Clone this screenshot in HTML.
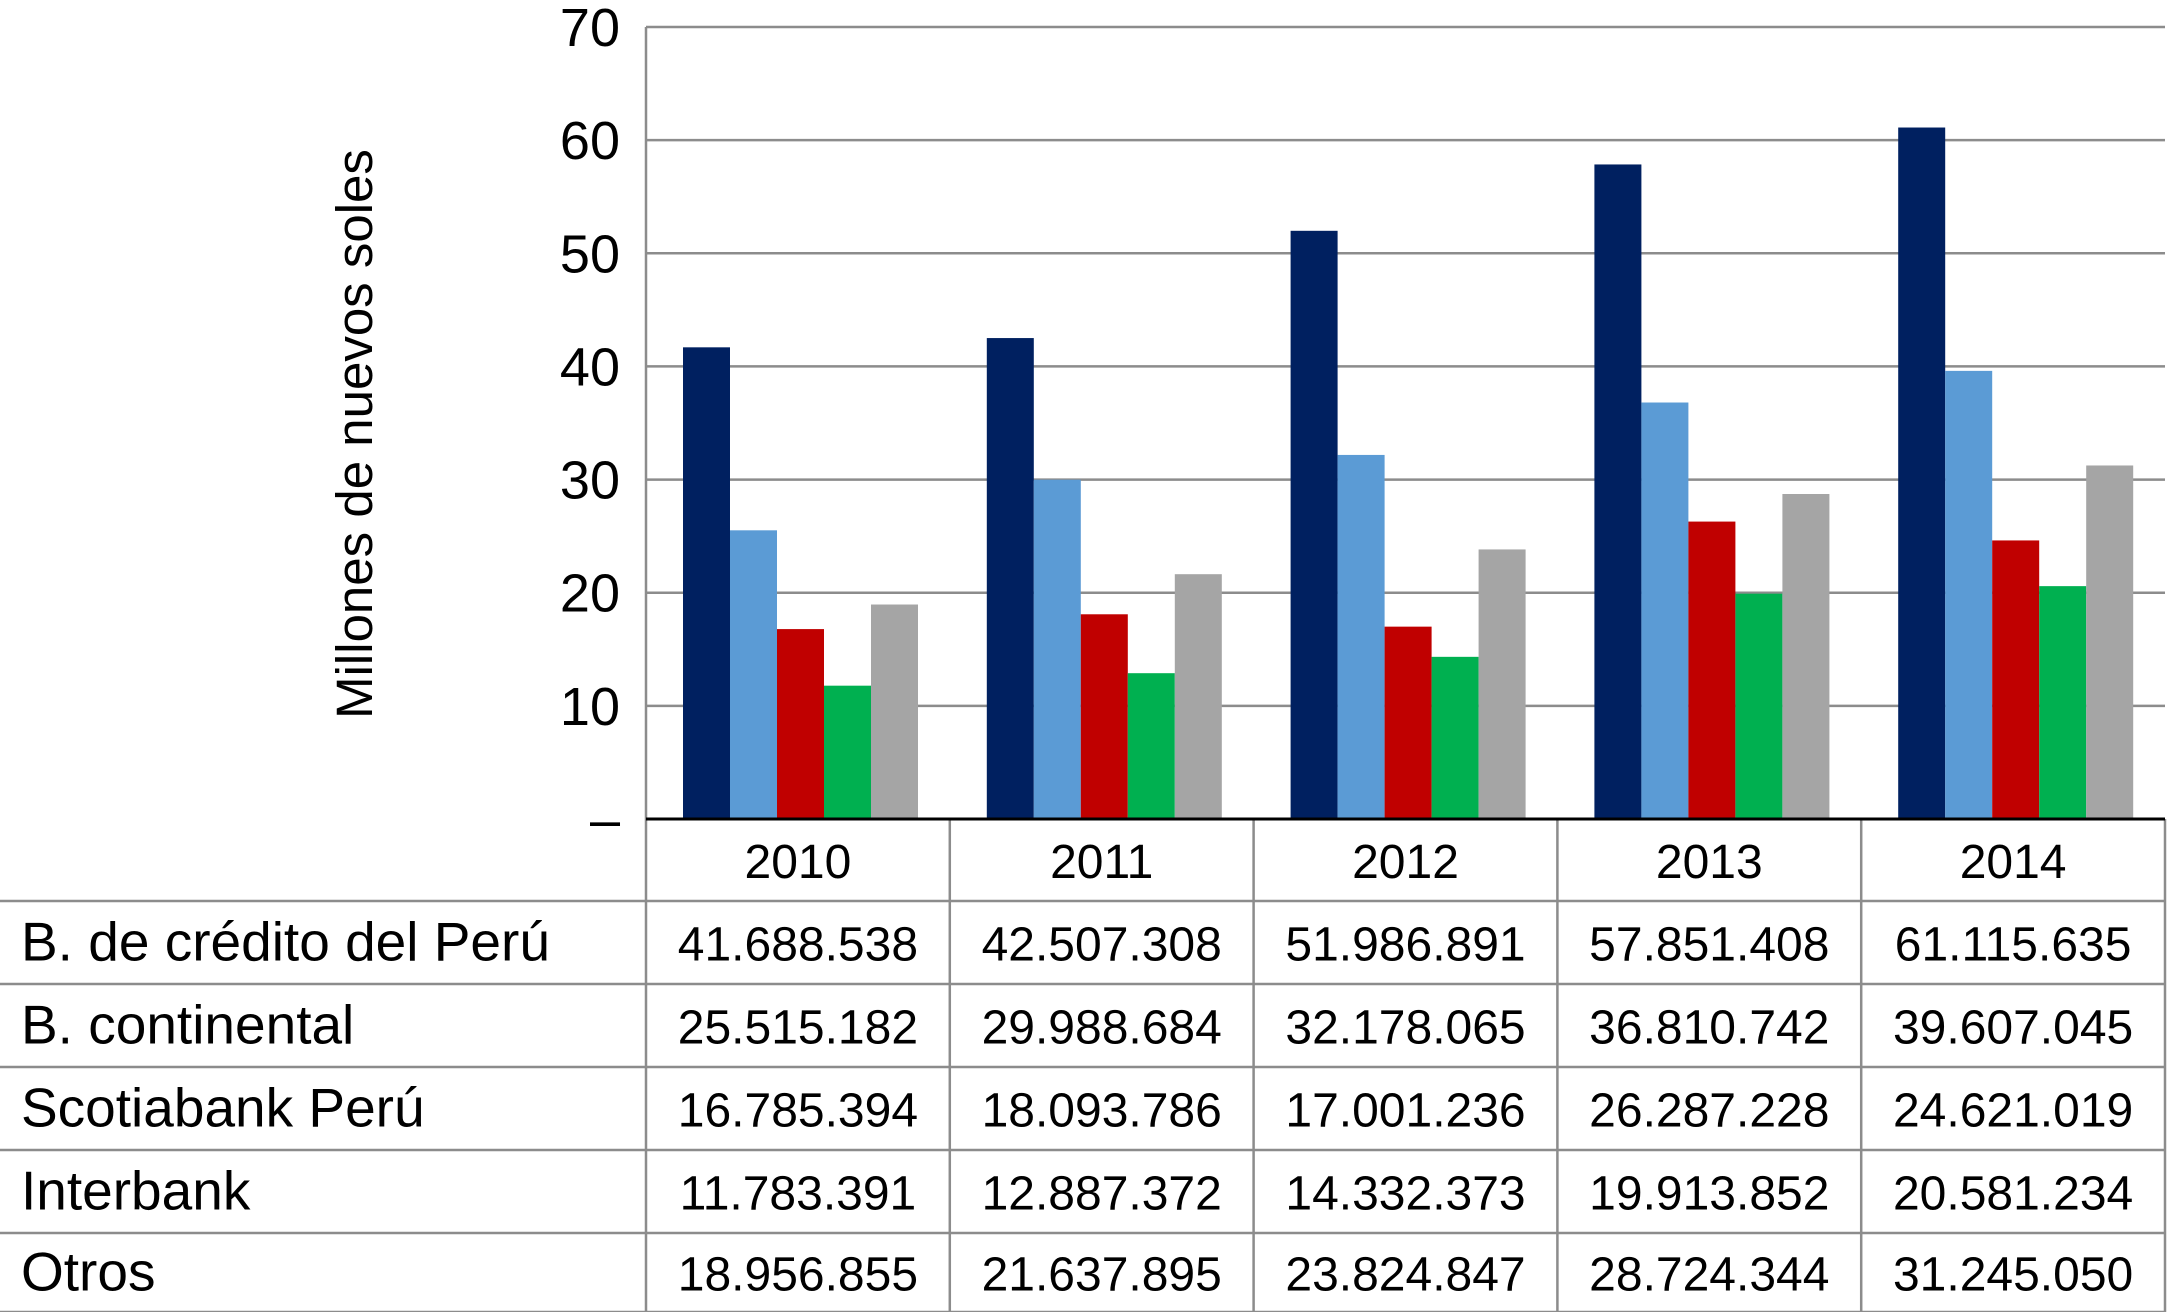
<!DOCTYPE html>
<html><head><meta charset="utf-8"><style>
html,body{margin:0;padding:0;background:#fff;}
svg{display:block;font-family:"Liberation Sans",Arial,sans-serif;}
</style></head><body>
<svg id="chart" width="2168" height="1312" viewBox="0 0 2168 1312"></svg>
<script>
const categories=["2010","2011","2012","2013","2014"];
const seriesNames=["B. de crédito del Perú","B. continental","Scotiabank Perú","Interbank","Otros"];
const seriesColors=["#002060","#5b9bd5","#c00000","#00b050","#a5a5a5"];
const sCredito=[41.688538,42.507308,51.986891,57.851408,61.115635];
const sContinental=[25.515182,29.988684,32.178065,36.810742,39.607045];
const sScotia=[16.785394,18.093786,17.001236,26.287228,24.621019];
const sInterbank=[11.783391,12.887372,14.332373,19.913852,20.581234];
const sOtros=[18.956855,21.637895,23.824847,28.724344,31.245050];
const tableCredito=["41.688.538","42.507.308","51.986.891","57.851.408","61.115.635"];
const tableContinental=["25.515.182","29.988.684","32.178.065","36.810.742","39.607.045"];
const tableScotia=["16.785.394","18.093.786","17.001.236","26.287.228","24.621.019"];
const tableInterbank=["11.783.391","12.887.372","14.332.373","19.913.852","20.581.234"];
const tableOtros=["18.956.855","21.637.895","23.824.847","28.724.344","31.245.050"];
const yTicks=[0,10,20,30,40,50,60,70];
const yTickLabels=["–","10","20","30","40","50","60","70"];

const series=[sCredito,sContinental,sScotia,sInterbank,sOtros];
const tableRows=[tableCredito,tableContinental,tableScotia,tableInterbank,tableOtros];
const NS="http://www.w3.org/2000/svg";
const svg=document.getElementById('chart');
const X0=646,X1=2165,Y0=819,YTOP=27,YMAX=70;
const colW=(X1-X0)/categories.length;
const y=v=>Y0-(v/YMAX)*(Y0-YTOP);
const xCat=i=>X0+i*colW;
function mk(tag,attrs,text){const e=document.createElementNS(NS,tag);for(const k in attrs)e.setAttribute(k,attrs[k]);if(text!==undefined)e.textContent=text;svg.appendChild(e);return e;}

yTicks.forEach((t,i)=>{
  if(t>0){const g=mk('line',{x1:X0,x2:X1,y1:y(t),y2:y(t),stroke:'#8c8c8c','stroke-width':2.5});
  
  }
  const l=mk('text',{x:620,y:y(t)+19,'font-size':54,'text-anchor':'end',fill:'#000'},yTickLabels[i]);
  
  
});
const ya=mk('line',{x1:X0,x2:X0,y1:YTOP,y2:1312,stroke:'#8c8c8c','stroke-width':2.5});


const yt=mk('text',{x:0,y:0,'font-size':51,'text-anchor':'middle',fill:'#000',transform:'translate(372,434) rotate(-90)'},'Millones de nuevos soles');



const barW=47,barOff=37;
series.forEach((s,si)=>{
  s.forEach((v,ci)=>{
    const r=mk('rect',{x:xCat(ci)+barOff+si*barW,y:y(v),width:barW,height:Y0-y(v),fill:seriesColors[si]});
    
    
  });
});

const rowTop=[819,901,984,1067,1150,1233,1312];
for(let r=1;r<rowTop.length;r++){
  const hl=mk('line',{x1:0,x2:X1,y1:rowTop[r],y2:rowTop[r],stroke:'#8c8c8c','stroke-width':2.5});
  
  
}
for(let c=1;c<=categories.length;c++){
  const vl=mk('line',{x1:xCat(c),x2:xCat(c),y1:Y0,y2:1312,stroke:'#8c8c8c','stroke-width':2.5});
  
  
}
const base=mk('line',{x1:X0,x2:X1,y1:Y0,y2:Y0,stroke:'#000','stroke-width':3});


categories.forEach((c,ci)=>{
  const t=mk('text',{x:xCat(ci)+colW/2,y:878,'font-size':48,'text-anchor':'middle',fill:'#000'},c);
  
  
});
tableRows.forEach((row,ri)=>{
  const cy=(rowTop[ri+1]+rowTop[ri+2])/2+18;
  const lab=mk('text',{x:21,y:cy,'font-size':55,fill:'#000'},seriesNames[ri]);
  
  
  row.forEach((v,ci)=>{
    const t=mk('text',{x:xCat(ci)+colW/2,y:cy,'font-size':48,'text-anchor':'middle',fill:'#000'},v);
    
    
  });
});
</script>
</body></html>
